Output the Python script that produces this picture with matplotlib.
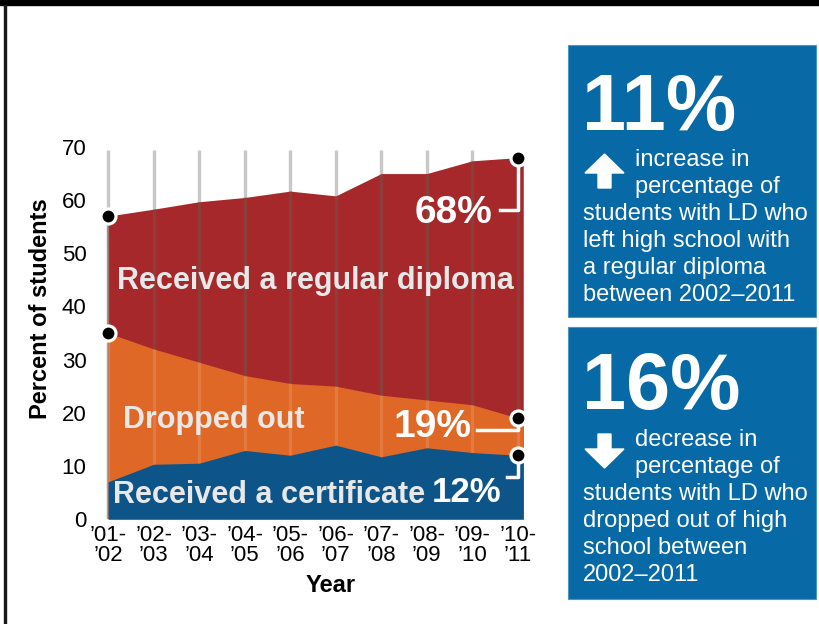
import numpy as np
import matplotlib
matplotlib.use("Agg")
import matplotlib.pyplot as plt
from matplotlib.patches import Rectangle, Polygon

plt.rcParams["font.family"] = ["Liberation Sans", "DejaVu Sans"]

# school years and share of students with LD by exit type (percent)
years = ["’01-\n’02", "’02-\n’03", "’03-\n’04", "’04-\n’05", "’05-\n’06",
         "’06-\n’07", "’07-\n’08", "’08-\n’09", "’09-\n’10", "’10-\n’11"]
diploma = [57, 58.3, 59.7, 60.5, 61.7, 60.8, 65.0, 65.0, 67.4, 68]
dropout = [35, 32, 29.5, 27, 25.5, 25, 23.3, 22.4, 21.5, 19]
certificate = [7, 10.3, 10.5, 12.9, 12.0, 13.9, 11.7, 13.4, 12.5, 12]

RED = "#a6282b"
ORANGE = "#e06826"
BLUE = "#0d5589"
PANEL = "#0769a5"
PALE = "#e8e8e8"

W, H = 819, 624
fig = plt.figure(figsize=(W / 100, H / 100), dpi=100)


def fx(p):
    return p / W


def fy(p):
    return 1 - p / H


ax = fig.add_axes([fx(99), fy(519), 437 / W, 372 / H])
x = np.arange(len(years))
# let the bands run a little past the last year
xf = np.append(x, x[-1] + 0.12)


def ext(v):
    return np.append(v, v[-1])


ax.vlines(x, 0, 69.4, color="#c8c8c8", lw=2.4, zorder=0)
ax.fill_between(xf, 0, ext(diploma), color=RED, lw=0, zorder=1)
ax.vlines(x, 0, diploma, color="#6e5a4a", alpha=0.45, lw=2.4, zorder=1.5)
ax.fill_between(xf, 0, ext(dropout), color=ORANGE, lw=0, zorder=2)
ax.vlines(x, 0, dropout, color="white", alpha=0.12, lw=2.4, zorder=2.5)
ax.fill_between(xf, 0, ext(certificate), color=BLUE, lw=0, zorder=3)

# band names
ax.text(0.2, 43.3, "Received a regular diploma", color=PALE, fontsize=22,
        fontweight="bold", va="baseline", zorder=4)
ax.text(0.33, 17.1, "Dropped out", color=PALE, fontsize=22,
        fontweight="bold", va="baseline", zorder=4)
ax.text(0.11, 3.0, "Received a certificate", color=PALE, fontsize=22,
        fontweight="bold", va="baseline", zorder=4)

# end-point callouts
last = x[-1]
ax.plot([last, last, 8.6], [diploma[-1], 58.1, 58.1], color="white", lw=2.5, zorder=5)
ax.text(8.45, 55.7, f"{diploma[-1]:.0f}%", color="white", fontsize=28,
        fontweight="bold", ha="right", va="baseline", zorder=5)
ax.plot([last, last, 8.1], [dropout[-1], 16.7, 16.7], color="white", lw=2.5, zorder=5)
ax.text(7.99, 15.4, f"{dropout[-1]:.0f}%", color="white", fontsize=28,
        fontweight="bold", ha="right", va="baseline", zorder=5)
ax.plot([last, last, 8.76], [certificate[-1], 7.9, 7.9], color="white", lw=2.5, zorder=5)
ax.text(8.65, 3.2, f"{certificate[-1]:.0f}%", color="white", fontsize=25,
        fontweight="bold", ha="right", va="baseline", zorder=5)

ax.plot([x[0], x[0], last, last, last],
        [diploma[0], dropout[0], diploma[-1], dropout[-1], certificate[-1]],
        "o", ms=10.8, mfc="black", mec="white", mew=2.3, zorder=6, clip_on=False)

ax.set_xlim(-0.2, 9.4)
ax.set_ylim(0, 70)
ax.set_yticks(range(0, 71, 10))
ax.set_xticks(x)
ax.set_xticklabels(years, linespacing=0.95)
ax.tick_params(length=0, labelsize=16)
ax.tick_params(axis="y", pad=9)
ax.tick_params(axis="x", pad=4)
for s in ax.spines.values():
    s.set_visible(False)

fig.text(fx(41), fy(309), "Percent of students", rotation=90, fontsize=17,
         fontweight="bold", ha="center", va="center")
fig.text(fx(331), fy(586), "Year", fontsize=17, fontweight="bold",
         ha="center", va="center")

# page frame
fig.add_artist(Rectangle((0, fy(5)), 1, 5 / H, color="black",
                         transform=fig.transFigure))
fig.add_artist(Rectangle((fx(4), 0), 2 / W, fy(5), color="#1a1a1a",
                         transform=fig.transFigure))


def panel(top, bottom, big, big_base, arrow_up, lines_right, lines_left, base0):
    fig.add_artist(Rectangle((fx(568), fy(bottom)), 248 / W, (bottom - top) / H,
                             facecolor=PANEL, edgecolor="#4d93c4", lw=0.8,
                             transform=fig.transFigure))
    fig.text(fx(582), fy(big_base), big, color="white", fontsize=57,
             fontweight="bold", va="baseline")
    a0 = base0 - 12
    if arrow_up:
        pts = [(604.5, a0), (585, a0 + 19), (598, a0 + 19), (598, a0 + 34),
               (611, a0 + 34), (611, a0 + 19), (624, a0 + 19)]
    else:
        pts = [(604.5, a0 + 34), (585, a0 + 15), (598, a0 + 15), (598, a0),
               (611, a0), (611, a0 + 15), (624, a0 + 15)]
    fig.add_artist(Polygon([(fx(px), fy(py)) for px, py in pts], closed=True,
                           color="white", transform=fig.transFigure))
    step = 27
    for i, t in enumerate(lines_right):
        fig.text(fx(635), fy(base0 + i * step), t, color="white", fontsize=17,
                 va="baseline")
    for j, t in enumerate(lines_left):
        fig.text(fx(583), fy(base0 + (len(lines_right) + j) * step), t,
                 color="white", fontsize=17, va="baseline")


panel(45, 317, "11%", 130, True, ["increase in", "percentage of"],
      ["students with LD who", "left high school with", "a regular diploma",
       "between 2002–2011"], 166)
panel(327, 599, "16%", 409, False, ["decrease in", "percentage of"],
      ["students with LD who", "dropped out of high", "school between",
       "2002–2011"], 446)

fig.savefig("out.png", dpi=100)
